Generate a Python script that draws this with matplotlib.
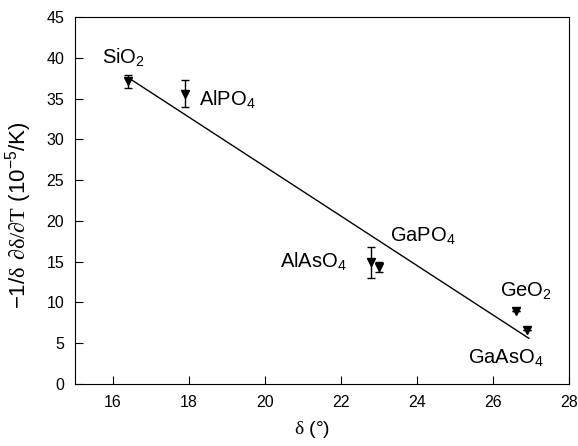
import matplotlib
matplotlib.use("Agg")
import matplotlib.pyplot as plt

plt.rcParams['font.family'] = ['Liberation Sans', 'DejaVu Sans']
plt.rcParams['mathtext.fontset'] = 'custom'
plt.rcParams['mathtext.rm'] = 'Liberation Serif'
plt.rcParams['mathtext.sf'] = 'Liberation Sans'

# data
names = ['SiO$_\\mathsf{2}$', 'AlPO$_\\mathsf{4}$', 'AlAsO$_\\mathsf{4}$',
         'GaPO$_\\mathsf{4}$', 'GeO$_\\mathsf{2}$', 'GaAsO$_\\mathsf{4}$']
delta = [16.4, 17.9, 22.8, 23.0, 26.6, 26.9]
coef = [37.1, 35.6, 14.9, 14.3, 8.9, 6.6]
err = [0.8, 1.7, 1.85, 0.6, 0.0, 0.0]

fit_x = [16.45, 26.95]
fit_y = [37.4, 5.6]

label_x = [15.7, 18.25, 22.15, 23.3, 26.2, 25.35]
label_y = [40.0, 34.8, 15.0, 18.1, 11.3, 3.2]
label_ha = ['left', 'left', 'right', 'left', 'left', 'left']

fig = plt.figure(figsize=(5.78, 4.46), dpi=100)
ax = fig.add_axes([0.13, 0.139, 0.854, 0.823])

ax.plot(fit_x, fit_y, color='black', lw=1)
ax.errorbar(delta, coef, yerr=err, fmt='v', color='black', ms=6,
            capsize=3, elinewidth=1, capthick=1)

for n, x, y, ha in zip(names, label_x, label_y, label_ha):
    ax.text(x, y, n, ha=ha, va='center', fontsize=14.5)

ax.set_xlim(15, 28)
ax.set_ylim(0, 45)
ax.set_xticks(range(16, 29, 2))
ax.set_yticks(range(0, 46, 5))
ax.tick_params(direction='in', length=6, labelsize=11.5, pad=8)
ax.set_xlabel('$\\mathrm{δ}$ (°)', fontsize=14)
ax.set_ylabel('−1/$\\mathrm{δ\\ ∂δ/∂T}$ (10$^{\\mathsf{-5}}$/K)', fontsize=16)
ax.xaxis.set_label_coords(0.48, -0.095)
ax.yaxis.set_label_coords(-0.083, 0.46)

fig.savefig('out.png', dpi=100)
